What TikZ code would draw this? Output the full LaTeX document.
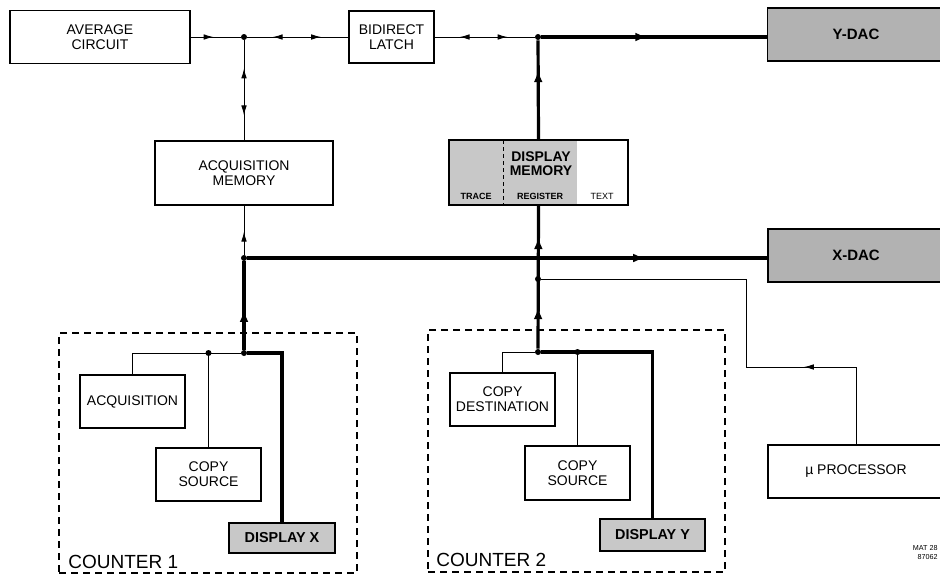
\documentclass[tikz,border=0pt]{standalone}
\usepackage{fontspec}
\setmainfont{Liberation Sans}
\usepackage{xcolor}
\usetikzlibrary{arrows.meta,positioning,calc,decorations.markings}
\definecolor{tonegray}{HTML}{B2B2B2}
\definecolor{tonelight}{HTML}{C8C8C8}

\begin{document}
\begin{tikzpicture}[
    x=0.5pt,y=-0.5pt,
    blk/.style  = {draw, line width=0.6pt, align=center, inner sep=0pt,
                   font=\fontsize{7}{7.4}\selectfont},
    dac/.style  = {blk, fill=tonegray, font=\fontsize{7.5}{8}\selectfont\bfseries},
    dsp/.style  = {blk, fill=tonelight, font=\fontsize{7.2}{8}\selectfont\bfseries},
    grp/.style  = {draw, line width=0.6pt, dash pattern=on 3.5pt off 2.5pt,
                   inner sep=0pt},
    wire/.style = {line width=0.5pt, >={Latex[length=5pt,width=2.8pt]}},
    bus/.style  = {line width=1.6pt, >={Latex[length=6pt,width=4.4pt]}},
    dot/.style  = {circle, fill, inner sep=0pt, minimum size=3pt},
    fw/.style   = {postaction={decorate,decoration={markings,
                   mark=at position #1 with {\arrow{>}}}}},
    bw/.style   = {postaction={decorate,decoration={markings,
                   mark=at position #1 with {\arrowreversed{>}}}}},
    cnt/.style  = {font=\fontsize{9.5}{10}\selectfont, anchor=base west, inner sep=0pt},
    sub/.style  = {font=\fontsize{4.5}{5}\selectfont\bfseries, inner sep=0pt},
  ]
  \useasboundingbox (0,0) rectangle (940,575);

  % Top row
  \node[blk, minimum width=90pt, minimum height=26.5pt] (avg) at (100,37) {AVERAGE\\CIRCUIT};
  \node[blk, minimum width=42.5pt, minimum height=26pt] (latch) at (391.5,37) {BIDIRECT\\LATCH};
  \node[dac, minimum width=88.5pt, minimum height=26.5pt] (ydac) at (856,34.5) {Y-DAC};

  % Memories
  \node[blk, minimum width=89pt, minimum height=32pt] (acqmem) at (244,173) {ACQUISITION\\MEMORY};
  \fill[tonelight] (449,140) rectangle (577,205);
  \draw[line width=0.5pt, dash pattern=on 2pt off 1.5pt] (503,140) -- (503,205);
  \node[blk, minimum width=89.5pt, minimum height=32.5pt] (dispmem) at (538.5,172.5) {};
  \node[font=\fontsize{7}{7}\selectfont\bfseries, align=center, inner sep=0pt] (dmtxt) at (541,164) {DISPLAY\\MEMORY};
  \node[sub] (ltrace) at (476,196) {TRACE};
  \node[sub] (lreg) at (540,196) {REGISTER};
  \node[sub, font=\fontsize{4.5}{5}\selectfont] (ltext) at (602,196) {TEXT};

  % Right column
  \node[dac, minimum width=88pt, minimum height=26.5pt] (xdac) at (856,255.5) {X-DAC};
  \node[blk, minimum width=88pt, minimum height=26.5pt] (upro) at (856,471.5) {µ PROCESSOR};

  % Counter 1
  \node[grp, minimum width=149pt, minimum height=120pt] (cnt1) at (208,453) {};
  \node[cnt] (lc1) at (68,568) {COUNTER 1};
  \node[blk, minimum width=52.5pt, minimum height=26.5pt] (acq) at (132.5,401.5) {ACQUISITION};
  \node[blk, minimum width=52.5pt, minimum height=26.5pt] (cps1) at (208.5,474.5) {COPY\\SOURCE};
  \node[dsp, minimum width=53pt, minimum height=15pt] (dispx) at (282,538) {DISPLAY X};

  % Counter 2
  \node[grp, minimum width=148.5pt, minimum height=121pt] (cnt2) at (576.5,451) {};
  \node[cnt] (lc2) at (436,566) {COUNTER 2};
  \node[blk, minimum width=52.5pt, minimum height=26.5pt] (cdst) at (502.5,399.5) {COPY\\DESTINATION};
  \node[blk, minimum width=52.5pt, minimum height=27pt] (cps2) at (577.5,473) {COPY\\SOURCE};
  \node[dsp, minimum width=52.5pt, minimum height=16pt] (dispy) at (652.5,535) {DISPLAY Y};

  \node[font=\fontsize{3.6}{4.4}\selectfont, align=right, anchor=north east, inner sep=0pt] (mat) at (938,545) {MAT 28\\87062};

  % Junctions
  \node[dot] (j1) at (244,37) {};
  \node[dot] (j2) at (538,37) {};
  \node[dot] (j3) at (244,258) {};
  \node[dot] (j4) at (244,353) {};
  \node[dot] (j5) at (538,279) {};
  \node[dot] (j6) at (538,352) {};
  \node[dot] (k1) at (cps1.north |- j4) {};
  \node[dot] (k3) at (cps2.north |- j6) {};
  \coordinate (bend) at (746,367);

  % Top bus
  \draw[wire, fw=0.46] (avg.east) -- (j1);
  \draw[wire, bw=0.25, fw=0.73] (j1) -- (latch.west);
  \draw[wire, bw=0.25, fw=0.73] (latch.east) -- (j2);
  \draw[bus, fw=0.47] (j2) -- (j2 -| ydac.west);
  \draw[bus, fw=0.70] (dispmem.north) -- (j2);
  \draw[wire, bw=0.28, fw=0.75] (j1) -- (acqmem.north);

  % X bus
  \draw[wire, fw=0.47] (j3) -- (acqmem.south);
  \draw[bus, fw=0.765] (j3) -- (j3 -| xdac.west);
  \draw[bus, fw=0.45] (j4) -- (j3);
  \draw[bus, fw=0.29, fw=0.78] (j6) -- (dispmem.south);

  % Counter links
  \draw[bus] (j4) -| (dispx.north);
  \draw[wire] (j4) -| (acq.north);
  \draw[wire] (k1) -- (cps1.north);
  \draw[wire] (j6) -| (cdst.north);
  \draw[bus] (j6) -| (dispy.north);
  \draw[wire] (k3) -- (cps2.north);

  % Processor
  \draw[wire, fw=0.27] (upro.north) |- (bend) |- (j5);

\end{tikzpicture}
\end{document}
